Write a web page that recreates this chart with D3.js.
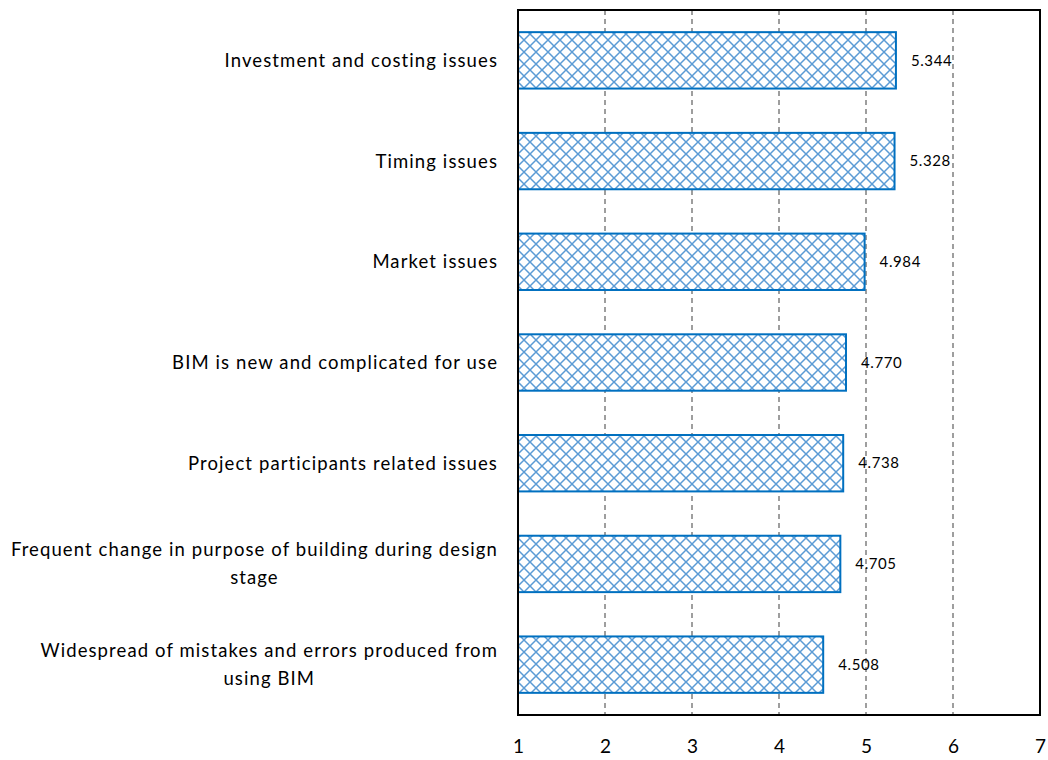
<!DOCTYPE html>
<html>
<head>
<meta charset="utf-8">
<script src="https://cdn.jsdelivr.net/npm/d3@7"></script>
<style>
  html, body { margin: 0; padding: 0; background: #fff; }
  svg { display: block; font-family: Lato, "Open Sans", sans-serif; }
</style>
</head>
<body>
<div id="chart"></div>
<script>
// Catégories (de haut en bas) et scores moyens
const categories = [
  ["Investment and costing issues"],
  ["Timing issues"],
  ["Market issues"],
  ["BIM is new and complicated for use"],
  ["Project participants related issues"],
  ["Frequent change in purpose of building during design", "stage"],
  ["Widespread of mistakes and errors produced from", "using BIM"]
]
const values = [5.344, 5.328, 4.984, 4.770, 4.738, 4.705, 4.508]
const xTicks = [1, 2, 3, 4, 5, 6, 7]

const W = 1048, H = 760
const margin = { top: 10, right: 8, bottom: 45, left: 518 }
const width = W - margin.left - margin.right
const height = H - margin.top - margin.bottom

const svg = d3.select("#chart").append("svg")
  .attr("width", W).attr("height", H)
  .attr("viewBox", `0 0 ${W} ${H}`)

// Motif quadrillé diagonal
const defs = svg.append("defs")
const pat = defs.append("pattern")
  .attr("id", "hatch")
  .attr("patternUnits", "userSpaceOnUse")
  .attr("width", 12).attr("height", 12)
pat.append("rect").attr("width", 12).attr("height", 12).attr("fill", "#fff")
pat.append("path")
  .attr("d", "M0,0L12,12M12,0L0,12")
  .attr("stroke", "#5b9bd5").attr("stroke-width", 1.5)

const g = svg.append("g").attr("transform", `translate(${margin.left},${margin.top})`)

const x = d3.scaleLinear().domain([1, 7]).range([0, width])
const y = d3.scaleBand().domain(d3.range(categories.length)).range([0, height]).paddingInner(0.44).paddingOuter(0.22)

// Grille verticale pointillée
g.append("g")
  .selectAll("line")
  .data(xTicks.slice(1, -1))
  .join("line")
  .attr("x1", (d) => x(d)).attr("x2", (d) => x(d))
  .attr("y1", 0).attr("y2", height)
  .attr("stroke", "#7f7f7f").attr("stroke-width", 1.5)
  .attr("stroke-dasharray", "5,4")

// Barres
g.selectAll("rect.bar")
  .data(values)
  .join("rect")
  .attr("class", "bar")
  .attr("x", x(1))
  .attr("y", (d, i) => y(i))
  .attr("width", (d) => x(d) - x(1))
  .attr("height", y.bandwidth())
  .attr("fill", "url(#hatch)")
  .attr("stroke", "#0070c0").attr("stroke-width", 2)

// Valeurs
g.selectAll("text.val")
  .data(values)
  .join("text")
  .attr("class", "val")
  .attr("x", (d) => x(d) + 15)
  .attr("y", (d, i) => y(i) + y.bandwidth() / 2)
  .attr("dy", "0.35em")
  .attr("font-size", 15).attr("letter-spacing", 0.6).attr("fill", "#000")
  .text((d) => d.toFixed(3))

// Cadre
g.append("rect")
  .attr("width", width).attr("height", height)
  .attr("fill", "none").attr("stroke", "#000").attr("stroke-width", 2)

// Axe X
const xAxis = g.append("g")
  .attr("transform", `translate(0,${height})`)
  .call(d3.axisBottom(x).tickValues(xTicks).tickSize(0).tickPadding(25).tickFormat(d3.format("d")))
xAxis.select(".domain").remove()
xAxis.selectAll("text").attr("font-size", 19).attr("fill", "#000").attr("font-family", "Lato, sans-serif")

// Libellés de catégories (bloc aligné à droite, lignes centrées)
const labelRight = -20
const lineH = 28
categories.forEach((lines, i) => {
  const t = svg.append("text")
    .attr("font-size", 18.5).attr("letter-spacing", 1.1).attr("fill", "#000")
  const cy = margin.top + y(i) + y.bandwidth() / 2
  lines.forEach((ln, j) => {
    t.append("tspan").text(ln)
      .attr("y", cy + (j - (lines.length - 1) / 2) * lineH)
      .attr("dy", "0.35em")
  })
  const spans = t.selectAll("tspan").nodes()
  const maxW = d3.max(spans, (s) => s.getComputedTextLength())
  const cx = margin.left + labelRight - maxW / 2
  t.attr("text-anchor", "middle")
  t.selectAll("tspan").attr("x", cx)
})
</script>
</body>
</html>
